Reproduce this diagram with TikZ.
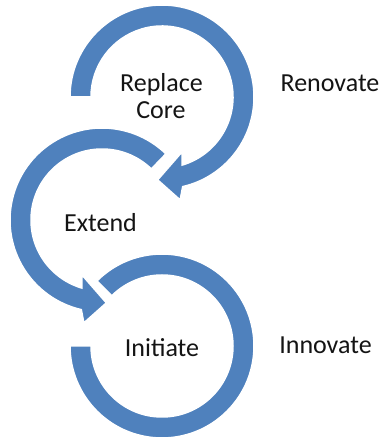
\documentclass[tikz,border=0pt]{standalone}
\usepackage{fontspec}
\setmainfont{Carlito}
\definecolor{cycleblue}{RGB}{79,129,189}
\definecolor{labelink}{RGB}{20,20,20}
\tikzset{
  band/.style={fill=cycleblue, draw=white, line width=1.5pt, line join=miter},
  label/.style={anchor=base, inner sep=0pt, text=labelink,
                font=\fontsize{26}{27}\selectfont},
}
\begin{document}
\begin{tikzpicture}[x=1pt, y=1pt]
  \fill[white] (0,0) rectangle (385,439);
  \useasboundingbox (0,0) rectangle (385,439);

  % lower ring, open on its upper left
  \begin{scope}[shift={(162,93)}]
    \path[band] (135:92pt) arc[start angle=135, end angle=-180, radius=92pt]
      -- (180:71pt) arc[start angle=-180, end angle=135, radius=71pt] -- cycle;
  \end{scope}

  % middle arc, turning anticlockwise into the lower ring
  \begin{scope}[shift={(102,219)}]
    \path[band] (46:71pt) arc[start angle=46, end angle=253.5, radius=71pt]
      -- (250:58.5pt) -- (273:83pt) -- (260:104.5pt)
      -- (257:92pt) arc[start angle=257, end angle=46, radius=92pt] -- cycle;
  \end{scope}

  % upper arc, turning clockwise into the middle arc
  \begin{scope}[shift={(162,342)}]
    \path[band] (180:92pt) arc[start angle=180, end angle=-77, radius=92pt]
      -- (-80:104.5pt) -- (-93:83pt) -- (-70:58.5pt)
      -- (-73.5:71pt) arc[start angle=-73.5, end angle=180, radius=71pt] -- cycle;
  \end{scope}

  \node[label] (replace)  at (161.5,347) {Replace};
  \node[label] (core)     at (161,320)   {Core};
  \node[label] (renovate) at (330,347)   {Renovate};
  \node[label] (extend)   at (100.5,207) {Extend};
  \node[label] (initiate) at (162,82)    {Initiate};
  \node[label] (innovate) at (325.5,85)  {Innovate};
\end{tikzpicture}
\end{document}
